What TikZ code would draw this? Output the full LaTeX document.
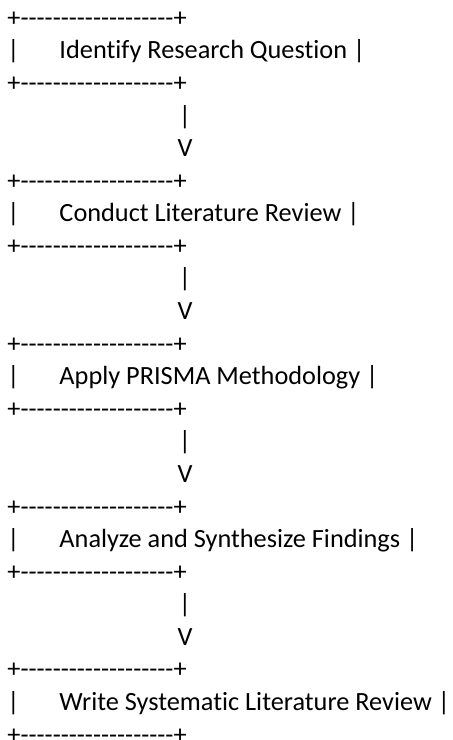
\documentclass[tikz,border=0pt]{standalone}
\usepackage{fontspec}
\setmainfont{Carlito}[Ligatures={TeXOff,NoCommon}]
\begin{document}
\begin{tikzpicture}[x=1pt,y=-1pt,
  ascii/.style={anchor=base west, inner sep=0pt, outer sep=0pt, font=\fontsize{26.3}{32}\selectfont},
  arrowch/.style={anchor=base, inner sep=0pt, outer sep=0pt, font=\fontsize{26.3}{32}\selectfont}]
\useasboundingbox (0,0) rectangle (453,740);
% each box: top border, label line, bottom border
\foreach \n/\txt [count=\k from 0] in {1/Identify Research Question,2/Conduct Literature Review,3/Apply PRISMA Methodology,4/Analyze and Synthesize Findings,5/Write Systematic Literature Review}{
  \pgfmathsetmacro{\yt}{26.3+32.58*5*\k}
  \pgfmathsetmacro{\yl}{\yt+32.58}
  \pgfmathsetmacro{\yb}{\yt+2*32.58}
  \node[ascii] (top\n) at (7.5,\yt) {+-------------------+};
  \node[ascii] (bar\n) at (7.5,\yl) {|};
  \node[ascii] (lab\n) at (59.5,\yl) {\txt\ |};
  \node[ascii] (bot\n) at (7.5,\yb) {+-------------------+};
}
% arrows between boxes
\foreach \k in {1,2,3,4}{
  \pgfmathsetmacro{\ya}{26.3+32.58*(5*\k-2)}
  \pgfmathsetmacro{\yv}{\ya+32.58}
  \node[arrowch] (stem\k) at (185,\ya) {|};
  \node[arrowch] (head\k) at (185,\yv) {V};
}
\end{tikzpicture}
\end{document}
